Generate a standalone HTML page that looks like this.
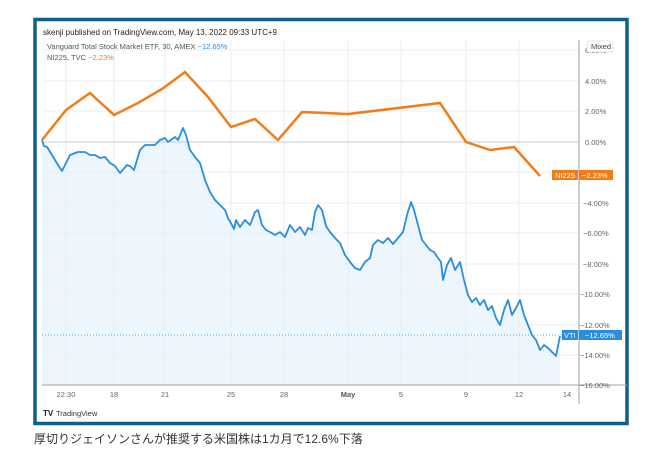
<!DOCTYPE html>
<html><head><meta charset="utf-8"><style>
body{margin:0;background:#fff;width:656px;height:460px;overflow:hidden;font-family:"Liberation Sans","Noto Sans CJK JP",sans-serif}
</style></head><body>
<svg width="656" height="460" style="position:absolute;left:0;top:0" font-family="Liberation Sans, Noto Sans CJK JP, sans-serif">
<rect x="35" y="19.5" width="592" height="404" fill="#fff" stroke="#0f5f8a" stroke-width="3.5"/>
<text x="43" y="35" font-size="8" fill="#222">skenji published on TradingView.com, May 13, 2022 09:33 UTC+9</text>
<polygon fill="#eef6fd" points="42,140 44,146 47,147 52,155 58,165 62,171 70,155 78,152 85,152 90,155 95,155 100,158 105,157 110,163 115,166 120,173 127,165 130,166 134,170 140,150 145,145 150,145 155,145 160,140 165,138 168,142 175,137 178,140 183,128 186,135 190,150 195,157 200,163 205,180 210,192 215,200 220,205 225,210 228,218 232,225 234,229 236,220 240,227 245,220 250,225 252,220 255,212 258,210 262,225 266,230 270,232 275,235 280,232 285,237 290,225 295,232 300,227 305,235 308,228 312,230 315,212 318,205 322,210 326,226 330,232 335,238 340,243 345,255 350,262 355,268 360,270 365,262 370,258 373,245 378,240 383,243 388,238 393,244 398,238 403,232 407,215 411,202 414,210 418,225 422,240 426,245 430,250 434,252 438,258 441,262 443,280 447,265 451,258 455,270 460,262 464,280 468,295 472,302 476,298 480,305 484,300 488,310 492,306 496,318 500,325 504,310 508,300 512,315 516,308 520,300 524,315 528,325 532,335 536,340 540,350 544,345 548,348 552,352 556,356 560,336 560,385 42,385"/>
<g stroke="#e8edf3" stroke-width="1">
<line x1="42" y1="50" x2="579" y2="50"/><line x1="42" y1="81" x2="579" y2="81"/><line x1="42" y1="111" x2="579" y2="111"/>
<line x1="42" y1="172" x2="579" y2="172"/><line x1="42" y1="203" x2="579" y2="203"/><line x1="42" y1="233" x2="579" y2="233"/><line x1="42" y1="264" x2="579" y2="264"/><line x1="42" y1="294" x2="579" y2="294"/><line x1="42" y1="325" x2="579" y2="325"/><line x1="42" y1="355" x2="579" y2="355"/>
<line x1="66" y1="40" x2="66" y2="385"/><line x1="114" y1="40" x2="114" y2="385"/><line x1="165" y1="40" x2="165" y2="385"/><line x1="231" y1="40" x2="231" y2="385"/><line x1="284" y1="40" x2="284" y2="385"/><line x1="348" y1="40" x2="348" y2="385"/><line x1="401" y1="40" x2="401" y2="385"/><line x1="466" y1="40" x2="466" y2="385"/><line x1="519" y1="40" x2="519" y2="385"/>
</g>
<line x1="42" y1="142" x2="579" y2="142" stroke="#c8cbd0"/>
<line x1="42" y1="335" x2="579" y2="335" stroke="#2a8de0" stroke-dasharray="1,2" stroke-width="0.8"/>
<polyline fill="none" stroke="#2a8de0" stroke-width="1.8" stroke-linejoin="round" points="42,140 44,146 47,147 52,155 58,165 62,171 70,155 78,152 85,152 90,155 95,155 100,158 105,157 110,163 115,166 120,173 127,165 130,166 134,170 140,150 145,145 150,145 155,145 160,140 165,138 168,142 175,137 178,140 183,128 186,135 190,150 195,157 200,163 205,180 210,192 215,200 220,205 225,210 228,218 232,225 234,229 236,220 240,227 245,220 250,225 252,220 255,212 258,210 262,225 266,230 270,232 275,235 280,232 285,237 290,225 295,232 300,227 305,235 308,228 312,230 315,212 318,205 322,210 326,226 330,232 335,238 340,243 345,255 350,262 355,268 360,270 365,262 370,258 373,245 378,240 383,243 388,238 393,244 398,238 403,232 407,215 411,202 414,210 418,225 422,240 426,245 430,250 434,252 438,258 441,262 443,280 447,265 451,258 455,270 460,262 464,280 468,295 472,302 476,298 480,305 484,300 488,310 492,306 496,318 500,325 504,310 508,300 512,315 516,308 520,300 524,315 528,325 532,335 536,340 540,350 544,345 548,348 552,352 556,356 560,336"/>
<polyline fill="none" stroke="#f07d1a" stroke-width="2.5" stroke-linejoin="miter" points="42,140 66,110 90,93 114,115 138,103 162,89 185,72 208,97 231,127 255,119 278,140 302,112 348,114 440,103 466,142 490,150 514,147 540,176"/>
<line x1="579" y1="40" x2="579" y2="404" stroke="#9aa0a6"/>
<line x1="42" y1="385" x2="627" y2="385" stroke="#9aa0a6"/>
<g font-size="7.5" fill="#666">
<text x="585" y="53">6.00%</text><text x="585" y="84">4.00%</text><text x="585" y="114">2.00%</text><text x="585" y="145">0.00%</text><text x="583" y="206">−4.00%</text><text x="583" y="236">−6.00%</text><text x="583" y="267">−8.00%</text><text x="580" y="297">−10.00%</text><text x="580" y="328">−12.00%</text><text x="580" y="358">−14.00%</text><text x="580" y="388">−16.00%</text>
</g>
<rect x="587" y="41" width="26" height="11" rx="2" fill="#fff" stroke="#ccc" stroke-width="0.6"/>
<text x="591" y="49" font-size="7.5" fill="#444">Mixed</text>
<rect x="552" y="170" width="26" height="10" fill="#f07d1a"/><rect x="579" y="170" width="34" height="10" fill="#f07d1a"/>
<text x="555" y="178" font-size="7.5" fill="#fff">NI225</text><text x="582" y="178" font-size="7.5" fill="#fff">−2.23%</text>
<rect x="562" y="330" width="16" height="10" fill="#2a8de0"/><rect x="579" y="330" width="43" height="10" fill="#2a8de0"/>
<text x="564" y="338" font-size="7.5" fill="#fff">VTI</text><text x="585" y="338" font-size="7.5" fill="#fff">−12.65%</text>
<text x="47" y="49" font-size="7.5" fill="#555">Vanguard Total Stock Market ETF, 30, AMEX <tspan fill="#2a8de0">−12.65%</tspan></text>
<text x="47" y="60" font-size="7.5" fill="#555">NI225, TVC <tspan fill="#f07d1a">−2.23%</tspan></text>
<g font-size="7.5" fill="#666" text-anchor="middle">
<text x="66" y="397">22:30</text><text x="114" y="397">18</text><text x="165" y="397">21</text><text x="231" y="397">25</text><text x="284" y="397">28</text><text x="348" y="397" font-weight="bold" fill="#555">May</text><text x="401" y="397">5</text><text x="466" y="397">9</text><text x="519" y="397">12</text><text x="567" y="397">14</text>
</g>
<text x="43" y="416" font-size="8" font-weight="bold" fill="#222">TV</text>
<text x="56" y="416" font-size="7.5" fill="#333">TradingView</text>
<text x="34" y="443" font-size="12" fill="#333">厚切りジェイソンさんが推奨する米国株は1カ月で12.6%下落</text>
</svg>
</body></html>
